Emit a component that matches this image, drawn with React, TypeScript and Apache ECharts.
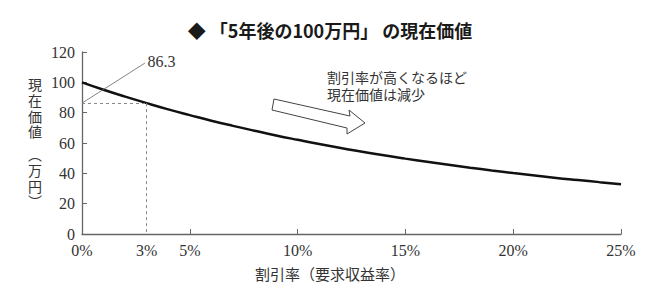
import React, { useEffect, useRef } from "react";
import * as echarts from "echarts";

const rates = [0, 1, 2, 3, 4, 5, 6, 7, 8, 9, 10, 11, 12, 13, 14, 15, 16, 17, 18, 19, 20, 21, 22, 23, 24, 25];
const presentValues = [100, 95.1, 90.6, 86.3, 82.2, 78.4, 74.7, 71.3, 68.1, 65.0, 62.1, 59.3, 56.7, 54.3, 51.9, 49.7, 47.6, 45.6, 43.7, 41.9, 40.2, 38.6, 37.0, 35.6, 34.2, 32.8];
const xLabelValues = [0, 3, 5, 10, 15, 20, 25];
const xTickValues = [5, 10, 15, 20, 25];
const markedRate = 3;
const markedValue = 86.3;
const leaderEnd = [2.92, 112.7];

const titleText = "◆ 「5年後の100万円」 の現在価値";
const xName = "割引率（要求収益率）";
const yNameTop = "現\n在\n価\n値";
const yNameBottom = "︵\n万\n円\n︶";
const noteText = "割引率が高くなるほど\n現在価値は減少";

const serif = "'Liberation Serif', 'Times New Roman', serif";
const jp = "'Noto Sans CJK JP', sans-serif";

export default function App() {
  const ref = useRef<HTMLDivElement>(null);
  useEffect(() => {
    if (!ref.current) return;
    const chart = echarts.init(ref.current, undefined, { renderer: "svg" });
    const data = rates.map((r, i) => [r, presentValues[i]]);
    chart.setOption({
      animation: false,
      backgroundColor: "#fff",
      grid: { left: 82, right: 39, top: 52, bottom: 59 },
      title: {
        text: titleText,
        left: "center",
        top: 16,
        textStyle: { fontFamily: jp, fontSize: 18, fontWeight: "bold", color: "#1a1a1a" },
      },
      xAxis: {
        type: "value",
        min: 0,
        max: 25,
        axisLine: { lineStyle: { color: "#666", width: 1.3 } },
        axisTick: { show: true, inside: true, length: 5, customValues: xTickValues, lineStyle: { color: "#666" } },
        axisLabel: {
          customValues: xLabelValues,
          formatter: (v: number) => `${v}%`,
          fontFamily: serif,
          fontSize: 16,
          color: "#333",
          margin: 8,
        },
        splitLine: { show: false },
      },
      yAxis: {
        type: "value",
        min: 0,
        max: 120,
        interval: 20,
        axisLine: { show: true, lineStyle: { color: "#666", width: 1.3 } },
        axisTick: { show: true, inside: true, length: 5, lineStyle: { color: "#666" } },
        axisLabel: { fontFamily: serif, fontSize: 16, color: "#333", margin: 7 },
        splitLine: { show: false },
      },
      graphic: [
        {
          type: "text",
          left: 28,
          top: 76,
          style: { text: yNameTop, font: `14px ${jp}`, lineHeight: 15.8, fill: "#333" },
        },
        {
          type: "text",
          left: 28,
          top: 146,
          style: { text: yNameBottom, font: `14px ${jp}`, lineHeight: 15.8, fill: "#333" },
        },
        {
          type: "text",
          left: "center",
          top: 266,
          style: { text: xName, font: `15px ${jp}`, fill: "#333" },
        },
        {
          type: "text",
          left: 327,
          top: 68,
          style: { text: noteText, font: `14px ${jp}`, lineHeight: 17, fill: "#333" },
        },
        {
          type: "polygon",
          shape: {
            points: [
              [274, 99],
              [350, 116],
              [349, 110],
              [365, 123],
              [347, 134],
              [347, 128],
              [272, 110],
            ],
          },
          style: { fill: "#fff", stroke: "#444", lineWidth: 1 },
        },
      ],
      series: [
        {
          type: "line",
          data,
          smooth: true,
          symbol: "none",
          lineStyle: { color: "#111", width: 2.5 },
          z: 3,
          markLine: {
            silent: true,
            symbol: "none",
            data: [
              [
                { coord: [0, markedValue], lineStyle: { type: [3, 3], color: "#888", width: 1 }, label: { show: false } },
                { coord: [markedRate, markedValue] },
              ],
              [
                { coord: [markedRate, markedValue], lineStyle: { type: [3, 3], color: "#888", width: 1 }, label: { show: false } },
                { coord: [markedRate, 0] },
              ],
              [
                {
                  coord: [0, markedValue],
                  lineStyle: { type: "solid", color: "#666", width: 0.8 },
                  label: {
                    show: true,
                    position: "end",
                    formatter: String(markedValue),
                    fontFamily: serif,
                    fontSize: 16,
                    color: "#333",
                    distance: 3,
                  },
                },
                { coord: leaderEnd },
              ],
            ],
          },
        },
      ],
    });
    return () => chart.dispose();
  }, []);
  return <div ref={ref} style={{ position: "fixed", left: 0, top: 0, width: 660, height: 293 }} />;
}
